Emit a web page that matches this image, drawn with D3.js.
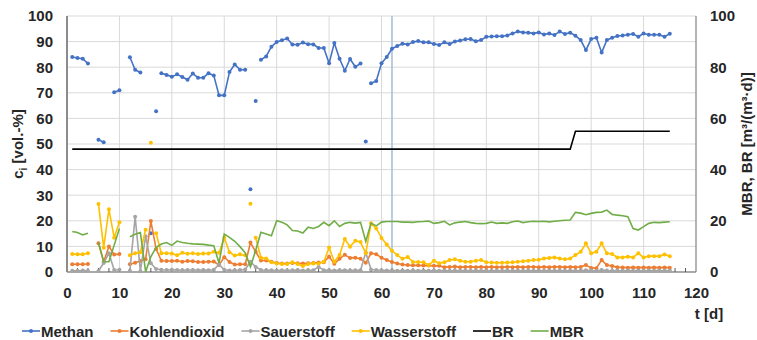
<!DOCTYPE html>
<html>
<head>
<meta charset="utf-8">
<script src="https://d3js.org/d3.v7.min.js"></script>
<style>
  body { margin: 0; background: #fff; }
  text { font-family: "Liberation Sans", Arial, sans-serif; }
</style>
</head>
<body>
<script>

// --- data ---------------------------------------------------------------
// Tage 1..115
var days = [
  1, 2, 3, 4, 5, 6, 7, 8, 9, 10, 11, 12, 13, 14, 15, 16, 17, 18, 19, 20,
  21, 22, 23, 24, 25, 26, 27, 28, 29, 30, 31, 32, 33, 34, 35, 36, 37, 38, 39, 40,
  41, 42, 43, 44, 45, 46, 47, 48, 49, 50, 51, 52, 53, 54, 55, 56, 57, 58, 59, 60,
  61, 62, 63, 64, 65, 66, 67, 68, 69, 70, 71, 72, 73, 74, 75, 76, 77, 78, 79, 80,
  81, 82, 83, 84, 85, 86, 87, 88, 89, 90, 91, 92, 93, 94, 95, 96, 97, 98, 99, 100,
  101, 102, 103, 104, 105, 106, 107, 108, 109, 110, 111, 112, 113, 114, 115
];

var methan = [
  84.0, 83.6, 83.3, 81.4, null, 51.7, 50.7, null, 70.2, 71.0,
  null, 83.9, 79.0, 77.9, null, null, null, 77.6, 77.0, 76.3,
  77.2, 76.2, 75.1, 77.5, 75.9, 75.9, 77.6, 76.8, 69.0, 69.0,
  78.1, 81.1, 79.0, 79.0, null, null, 82.9, 84.2, 88.0, 89.8,
  90.5, 91.2, 88.9, 88.8, 89.6, 89.0, 88.9, 87.5, 87.5, 81.5,
  89.5, 83.3, 78.6, 83.2, 80.2, 81.4, null, 73.7, 74.6, 81.5,
  84.0, 87.2, 88.3, 89.2, 88.9, 89.8, 90.2, 89.7, 89.7, 89.1,
  88.7, 89.7, 89.1, 90.0, 90.4, 90.9, 91.0, 90.1, 90.6, 91.9,
  92.0, 92.1, 92.1, 92.4, 93.2, 93.9, 93.6, 93.5, 93.2, 93.6,
  92.8, 93.2, 92.6, 93.9, 93.0, 93.5, 92.3, 90.6, 86.7, 91.0,
  91.5, 85.7, 90.6, 91.5, 92.2, 92.4, 92.7, 93.0, 91.9, 93.2,
  92.7, 92.7, 92.7, 91.9, 93.1
];
// einzelne Messpunkte ohne Verbindung [Tag, Wert]
var methanSingles = [[16, 15.1], [17, 62.8], [35, 32.3], [36, 66.8], [57, 51.0]];

var kohlendioxid = [
  3.0, 3.0, 3.0, 3.1, null, 11.2, 4.0, 10.0, 6.8, 7.0,
  null, 3.0, 3.6, 4.3, 5.0, 19.9, 9.0, 4.4, 4.3, 4.3,
  4.4, 4.0, 4.3, 4.2, 3.9, 3.9, 4.0, 4.1, 2.7, 5.8,
  3.9, 2.9, 3.0, 3.0, 11.5, 7.9, 4.5, 4.5, 4.0, 3.5,
  3.3, 3.3, 3.5, 3.4, 3.3, 3.4, 3.5, 3.7, 3.8, 6.0,
  3.2, 5.2, 6.7, 5.5, 5.6, 5.2, 3.6, 7.3, 6.9, 5.6,
  4.7, 3.9, 3.3, 2.9, 2.7, 2.6, 2.6, 2.5, 2.5, 2.4,
  2.4, 1.9, 2.0, 2.1, 1.9, 2.0, 2.0, 1.9, 2.0, 1.9,
  2.0, 1.9, 1.9, 2.0, 1.9, 2.0, 1.9, 2.0, 2.0, 1.9,
  2.0, 1.9, 2.0, 2.0, 1.9, 2.0, 1.9, 2.0, 2.7, 1.6,
  1.5, 4.7, 2.7, 2.3, 1.9, 1.8, 1.7, 1.8, 1.7, 1.8,
  1.7, 1.8, 1.7, 1.8, 1.7
];

var sauerstoff = [
  0.5, 0.5, 0.6, 0.5, null, 0.4, 3.5, 7.3, 0.8, 0.9,
  null, 0.5, 21.6, 0.3, 14.0, 3.4, 1.2, 0.9, 0.8, 0.9,
  0.8, 0.7, 0.8, 0.8, 0.7, 0.8, 0.7, 0.9, 3.0, 0.9,
  0.6, 0.7, 0.8, 1.0, 4.0, 2.0, 0.8, 0.7, 0.7, 0.6,
  0.7, 0.6, 0.7, 0.8, 0.6, 0.7, 0.7, 2.0, 0.7, 0.7,
  0.6, 0.7, 0.7, 0.6, 0.7, 0.7, 7.6, 1.0, 0.8, 0.7,
  0.6, 0.6, 0.5, 0.6, 0.5, 0.6, 0.5, 0.6, 0.5, 0.6,
  0.5, 0.6, 0.5, 0.6, 0.5, 0.6, 0.5, 0.6, 0.5, 0.6,
  0.5, 0.6, 0.5, 0.6, 0.5, 0.6, 0.5, 0.6, 0.5, 0.6,
  0.5, 0.6, 0.5, 0.6, 0.5, 0.6, 0.5, 0.6, 0.7, 0.6,
  0.5, 0.8, 0.6, 0.5, 0.6, 0.5, 0.6, 0.5, 0.6, 0.5,
  0.6, 0.5, 0.6, 0.5, 0.6
];

var wasserstoff = [
  7.0, 6.9, 6.9, 7.3, null, 26.6, 9.5, 24.5, 13.4, 19.4,
  null, 6.5, 7.3, 7.7, 16.5, null, 15.1, 7.3, 7.3, 7.2,
  6.5, 7.5, 7.1, 7.3, 7.0, 7.2, 7.2, 7.9, 7.5, 13.4,
  7.7, 6.4, 6.9, 6.5, null, 13.4, 5.6, 5.3, 3.8, 3.3,
  3.1, 3.1, 3.8, 3.1, 2.3, 3.1, 3.3, 3.3, 4.0, 9.6,
  4.0, 6.6, 12.9, 9.9, 12.2, 11.7, 7.3, 19.0, 17.0, 13.3,
  10.7, 8.3, 6.6, 5.2, 5.9, 3.9, 3.9, 3.8, 2.7, 4.4,
  3.4, 3.8, 4.7, 5.0, 4.4, 4.0, 4.0, 4.4, 4.7, 3.8,
  3.7, 3.6, 3.6, 3.7, 3.8, 4.0, 4.2, 4.4, 4.7, 4.8,
  5.3, 5.5, 5.7, 5.3, 5.0, 5.3, 6.6, 7.9, 11.2, 7.3,
  7.9, 11.2, 7.3, 7.0, 5.7, 5.7, 6.0, 5.7, 7.3, 5.7,
  6.2, 6.2, 6.2, 6.8, 6.2
];
var wasserstoffSingles = [[16, 50.5], [35, 26.7]];

// Raumbelastungen (rechte Achse)
var brDays = [1, 96, 97, 115];
var brValues = [48, 48, 55, 55];

var mbr = [
  15.8, 15.4, 14.5, 15.1, null, 11.6, 4.0, 4.0, 10.5, 17.0,
  null, 13.8, 14.7, 15.4, 0.1, 6.0, 9.5, 10.9, 11.5, 10.4,
  12.1, 11.5, 11.2, 11.0, 10.9, 10.8, 10.5, 10.3, 3.5, 14.8,
  13.5, 12.0, 9.9, 7.5, 2.0, 8.5, 15.5, 14.8, 14.2, 20.0,
  19.4, 18.4, 16.2, 16.0, 15.2, 17.5, 17.0, 17.8, 19.4, 18.1,
  20.0, 17.8, 19.0, 19.4, 19.1, 19.4, 11.9, 19.1, 18.0, 19.5,
  19.7, 19.7, 19.7, 19.5, 19.5, 19.4, 19.6, 19.7, 19.9, 19.0,
  19.3, 19.8, 18.4, 19.2, 19.5, 19.7, 19.3, 19.0, 18.9, 19.0,
  19.5, 19.0, 19.2, 19.0, 19.6, 19.9, 19.3, 19.6, 19.8, 19.7,
  19.8, 19.6, 19.8, 20.0, 20.2, 20.3, 23.3, 23.0, 22.4, 22.9,
  23.3, 23.4, 24.2, 22.5, 22.2, 22.0, 21.6, 17.0, 16.4, 17.7,
  19.0, 19.4, 19.3, 19.5, 19.6
];

var markerDay = 62;

var xTicks = [0, 10, 20, 30, 40, 50, 60, 70, 80, 90, 100, 110, 120];
var leftTicks = [0, 10, 20, 30, 40, 50, 60, 70, 80, 90, 100];
var rightTicks = [0, 20, 40, 60, 80, 100];

// --- chart --------------------------------------------------------------
var width = 757, height = 340;
var margin = {top: 16, right: 61, bottom: 68, left: 67};
var fontSize = 15;
var textColor = "#262626";

var svg = d3.select("body").append("svg")
    .attr("width", width)
    .attr("height", height);

var x = d3.scaleLinear().domain([0, 120]).range([margin.left, width - margin.right]);
var y = d3.scaleLinear().domain([0, 100]).range([height - margin.bottom, margin.top]);
var y2 = d3.scaleLinear().domain([0, 100]).range([height - margin.bottom, margin.top]);

// Gitternetz
svg.append("g").selectAll("line")
    .data(leftTicks.slice(1))
    .enter().append("line")
    .attr("x1", x(0)).attr("x2", x(120))
    .attr("y1", function (d) { return y(d); })
    .attr("y2", function (d) { return y(d); })
    .attr("stroke", "#d9d9d9")
    .attr("stroke-width", 1);

svg.append("g").selectAll("line")
    .data(xTicks.slice(1, -1))
    .enter().append("line")
    .attr("x1", function (d) { return x(d); })
    .attr("x2", function (d) { return x(d); })
    .attr("y1", y(0)).attr("y2", y(100))
    .attr("stroke", "#d9d9d9")
    .attr("stroke-width", 1);

// senkrechte Markierung
svg.append("line")
    .attr("x1", x(markerDay)).attr("x2", x(markerDay))
    .attr("y1", y(0)).attr("y2", y(100))
    .attr("stroke", "#a9c1dc")
    .attr("stroke-width", 1.6);

// Achsenlinien
svg.append("line")
    .attr("x1", x(0)).attr("x2", x(120))
    .attr("y1", y(0)).attr("y2", y(0))
    .attr("stroke", "#8c8c8c").attr("stroke-width", 1.3);
svg.append("line")
    .attr("x1", x(0)).attr("x2", x(0))
    .attr("y1", y(0)).attr("y2", y(100))
    .attr("stroke", "#8c8c8c").attr("stroke-width", 2);
svg.append("line")
    .attr("x1", x(120)).attr("x2", x(120))
    .attr("y1", y(0)).attr("y2", y(100))
    .attr("stroke", "#8c8c8c").attr("stroke-width", 1.3);

// kleine Striche an der x-Achse
var minor = d3.range(2, 120, 2);
svg.append("g").selectAll("line")
    .data(minor)
    .enter().append("line")
    .attr("x1", function (d) { return x(d); })
    .attr("x2", function (d) { return x(d); })
    .attr("y1", y(0)).attr("y2", y(0) - 4)
    .attr("stroke", "#595959").attr("stroke-width", 1);

// Achsenbeschriftung
function styleAxis(g) {
    g.select(".domain").remove();
    g.selectAll("text")
        .style("font-size", fontSize + "px")
        .style("font-weight", "bold")
        .attr("fill", textColor);
}

svg.append("g")
    .attr("transform", "translate(" + margin.left + ",0)")
    .call(d3.axisLeft(y).tickValues(leftTicks).tickSize(0).tickPadding(14))
    .call(styleAxis);

svg.append("g")
    .attr("transform", "translate(" + (width - margin.right) + ",0)")
    .call(d3.axisRight(y2).tickValues(rightTicks).tickSize(0).tickPadding(14))
    .call(styleAxis);

svg.append("g")
    .attr("transform", "translate(0," + y(0) + ")")
    .call(d3.axisBottom(x).tickValues(xTicks).tickSize(0).tickPadding(15))
    .call(styleAxis);

// Achsentitel
var leftTitle = svg.append("text")
    .attr("transform", "translate(23," + ((y(0) + y(100)) / 2) + ") rotate(-90)")
    .attr("text-anchor", "middle")
    .style("font-size", fontSize + "px")
    .style("font-weight", "bold")
    .attr("fill", textColor);
leftTitle.append("tspan").text("c");
leftTitle.append("tspan").attr("dy", 4).style("font-size", "10px").text("i");
leftTitle.append("tspan").attr("dy", -4).text(" [vol.-%]");

svg.append("text")
    .attr("transform", "translate(752," + ((y(0) + y(100)) / 2) + ") rotate(-90)")
    .attr("text-anchor", "middle")
    .style("font-size", fontSize + "px")
    .style("font-weight", "bold")
    .attr("fill", textColor)
    .text("MBR, BR [m³/(m³·d)]");

svg.append("text")
    .attr("x", 709).attr("y", 319)
    .attr("text-anchor", "middle")
    .style("font-size", fontSize + "px")
    .style("font-weight", "bold")
    .attr("fill", textColor)
    .text("t [d]");

// --- Reihen -------------------------------------------------------------
function pairs(values) {
    return days.map(function (d, i) { return [d, values[i]]; });
}

var line = d3.line()
    .defined(function (d) { return d[1] != null; })
    .x(function (d) { return x(d[0]); })
    .y(function (d) { return y(d[1]); });

var line2 = d3.line()
    .defined(function (d) { return d[1] != null; })
    .x(function (d) { return x(d[0]); })
    .y(function (d) { return y2(d[1]); });

var series = [
    {name: "Methan", color: "#4472c4", values: methan, singles: methanSingles, marker: true},
    {name: "Kohlendioxid", color: "#ed7d31", values: kohlendioxid, singles: [], marker: true},
    {name: "Sauerstoff", color: "#a5a5a5", values: sauerstoff, singles: [], marker: true},
    {name: "Wasserstoff", color: "#ffc000", values: wasserstoff, singles: wasserstoffSingles, marker: true},
    {name: "BR", color: "#000000", marker: false},
    {name: "MBR", color: "#70ad47", marker: false}
];

series.forEach(function (s) {
    var g = svg.append("g");
    if (s.name === "BR" || s.name === "MBR") {
        var rows = s.name === "BR"
            ? brDays.map(function (d, i) { return [d, brValues[i]]; })
            : pairs(mbr);
        g.append("path")
            .datum(rows)
            .attr("d", line2)
            .attr("fill", "none")
            .attr("stroke", s.color)
            .attr("stroke-width", 1.6);
        return;
    }
    var data = pairs(s.values);
    g.append("path")
        .datum(data)
        .attr("d", line)
        .attr("fill", "none")
        .attr("stroke", s.color)
        .attr("stroke-width", 1.6)
        .attr("stroke-linejoin", "round");
    var pts = data.filter(function (d) { return d[1] != null; }).concat(s.singles);
    g.selectAll("circle")
        .data(pts)
        .enter().append("circle")
        .attr("cx", function (d) { return x(d[0]); })
        .attr("cy", function (d) { return y(d[1]); })
        .attr("r", 2)
        .attr("fill", s.color);
});

// --- Legende ------------------------------------------------------------
var legend = svg.append("g").attr("transform", "translate(22,331)");
var lx = 0;
series.forEach(function (s) {
    var item = legend.append("g").attr("transform", "translate(" + lx + ",0)");
    item.append("line")
        .attr("x1", 0).attr("x2", 18)
        .attr("y1", 0).attr("y2", 0)
        .attr("stroke", s.color)
        .attr("stroke-width", 1.6);
    if (s.marker) {
        item.append("circle").attr("cx", 9).attr("cy", 0).attr("r", 2).attr("fill", s.color);
    }
    var t = item.append("text")
        .attr("x", 19).attr("y", 6)
        .style("font-size", fontSize + "px")
        .style("font-weight", "bold")
        .attr("fill", textColor)
        .text(s.name);
    lx += 19 + t.node().getComputedTextLength() + 17;
});

</script>
</body>
</html>
